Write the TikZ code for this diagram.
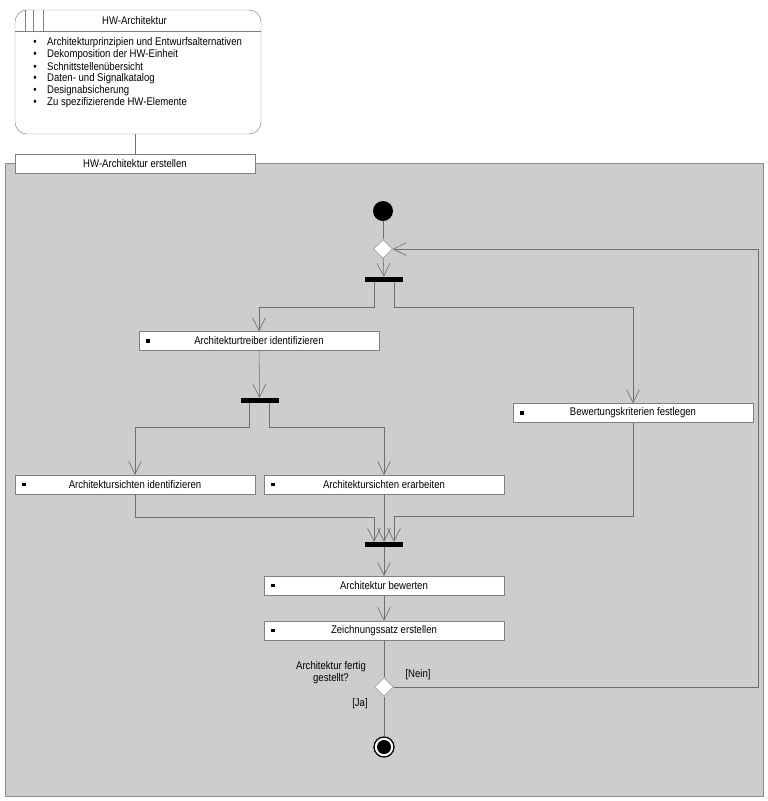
\documentclass[tikz,border=0pt]{standalone}
\usepackage{fontspec}
\setmainfont{Liberation Sans}[FakeStretch=0.86]
\usetikzlibrary{positioning,shapes.geometric,arrows.meta}

\definecolor{areagray}{HTML}{CDCDCD}
\definecolor{areaborder}{HTML}{8A8A8A}
\definecolor{linegray}{HTML}{6E6E6E}
\definecolor{boxgray}{HTML}{808080}

\tikzset{
	actbox/.style={draw=boxgray, fill=white, minimum width=7.2cm, minimum height=0.57cm, inner sep=0pt,
		path picture={\fill[black] ([xshift=0.27cm]path picture bounding box.west) +(-0.05cm,-0.05cm) rectangle +(0.05cm,0.05cm);}},
	bar/.style={fill=black, minimum width=1.14cm, minimum height=0.15cm, inner sep=0pt},
	choice/.style={diamond, draw=linegray, fill=white, minimum width=0.57cm, minimum height=0.57cm, inner sep=0pt},
	line/.style={draw=linegray, line width=0.5pt},
	flow/.style={line, -{Straight Barb[length=11pt,width=11pt,line width=0.5pt]}},
	label/.style={inner sep=0pt}
}

\begin{document}
\begin{tikzpicture}[x=0.03cm, y=-0.03cm, font=\fontsize{9.5}{10.2}\selectfont]
	\useasboundingbox (0,0) rectangle (768,801);

	% artefact
	\node[draw=boxgray, fill=white, rounded corners=0.36cm, minimum width=7.38cm, minimum height=3.72cm, inner sep=0pt] (artefakt) at (138,72) {};
	\draw[boxgray] (15,31) -- (261,31);
	\foreach \xpos in {25,33,43}
		\draw[boxgray] (\xpos,10) -- (\xpos,31);
	\node[label] (artname) at (134.5,21) {HW-Architektur};
	\foreach \txt [count=\i] in {Architekturprinzipien und Entwurfsalternativen, Dekomposition der HW-Einheit,
		Schnittstellenübersicht, Daten- und Signalkatalog, Designabsicherung, Zu spezifizierende HW-Elemente}
		\node[label, anchor=west] (item\i) at (47,31+12*\i) {\llap{\textbullet\hspace{9pt}}\txt};

	% activity area
	\fill[areagray] (5,163) rectangle (763,796);
	\draw[areaborder] (5,163) rectangle (763,796);
	\node[draw=boxgray, fill=white, minimum width=7.2cm, minimum height=0.57cm, inner sep=0pt] (erstellen) at (135,163.5) {HW-Architektur erstellen};
	\draw[line] (erstellen.north |- artefakt.south) -- (erstellen.north);

	% nodes
	\node[circle, fill=black, minimum size=0.6cm, inner sep=0pt] (start) at (383,211) {};
	\node[choice] (merge) at (383,249) {};
	\node[bar] (forkA) at (384,279.5) {};
	\node[actbox] (treiber) at (259,341) {Architekturtreiber identifizieren};
	\node[bar] (forkB) at (259.5,400.5) {};
	\node[actbox] (kriterien) at (633,413) {Bewertungskriterien festlegen};
	\node[actbox] (sichtenid) at (135,484.5) {Architektursichten identifizieren};
	\node[actbox] (sichtener) at (384,484.5) {Architektursichten erarbeiten};
	\node[bar] (joinA) at (384,544.5) {};
	\node[actbox] (bewerten) at (384,585.5) {Architektur bewerten};
	\node[actbox] (zeichnung) at (384,630.5) {Zeichnungssatz erstellen};
	\node[choice] (check) at (384,687) {};
	\node[circle, draw=black, line width=1.1pt, fill=white, minimum size=0.6cm, inner sep=0pt,
		path picture={\fill[black] (path picture bounding box.center) circle (0.21cm);}] (ende) at (384,747) {};

	% labels
	\node[label, align=center] (frage) at (331,673) {Architektur fertig\\gestellt?};
	\node[label] (nein) at (418,675) {[Nein]};
	\node[label] (ja) at (360,704) {[Ja]};

	% connectors
	\draw[line] (start) -- (merge);
	\draw[flow] (merge) -- (forkA);
	\draw[flow] ([xshift=-0.3cm]forkA.south) -- ++(0,25) -| (treiber.north);
	\draw[flow] ([xshift=0.3cm]forkA.south) -- ++(0,25) -| (kriterien.north);
	\draw[flow] (treiber) -- (forkB);
	\draw[flow] ([xshift=-0.3cm]forkB.south) -- ++(0,24) -| (sichtenid.north);
	\draw[flow] ([xshift=0.3cm]forkB.south) -- ++(0,24) -| (sichtener.north);
	\draw[flow] (sichtenid.south) -- ++(0,23) -| ([xshift=-0.3cm]joinA.north);
	\draw[flow] (sichtener) -- (joinA);
	\draw[flow] (kriterien.south) -- ++(0,94) -| ([xshift=0.3cm]joinA.north);
	\draw[flow] (joinA) -- (bewerten);
	\draw[flow] (bewerten) -- (zeichnung);
	\draw[line] (zeichnung) -- (check);
	\draw[flow] (check.east) -- ++(364.5,0) |- (merge.east);
	\draw[line] (check) -- (ende);
\end{tikzpicture}
\end{document}
